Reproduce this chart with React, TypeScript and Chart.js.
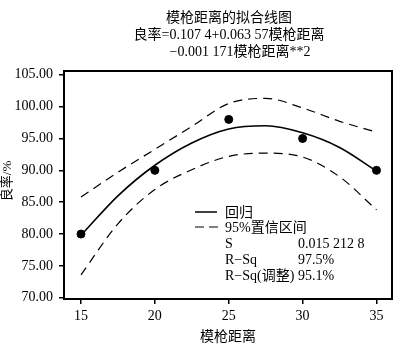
import React, { useEffect, useRef } from "react";
import { Chart, registerables } from "chart.js";
Chart.register(...registerables);

const xTicks = [15, 20, 25, 30, 35];
const yTicks = [70, 75, 80, 85, 90, 95, 100, 105];
const observedX = [15, 20, 25, 30, 35];
const observedY = [80, 90, 98, 95, 90];
const curveX = [15, 17.5, 20, 22.5, 25, 27.5, 30, 32.5, 35];
const fitY = [79.8, 86.0, 90.8, 94.3, 96.5, 97.0, 95.9, 93.6, 89.9];
const upperY = [85.8, 89.7, 93.3, 96.9, 100.5, 101.3, 99.8, 97.7, 96.0];
const lowerY = [73.6, 81.6, 87.0, 90.1, 92.2, 92.7, 92.1, 89.0, 83.8];
const titleLines = ["模枪距离的拟合线图", "良率=0.107 4+0.063 57模枪距离", "−0.001 171模枪距离**2"];
const xTitle = "模枪距离";
const yTitle = "良率/%";
const legendLabels = ["回归", "95%置信区间"];
const statNames = ["S", "R−Sq", "R−Sq(调整)"];
const statValues = ["0.015 212 8", "97.5%", "95.1%"];

const FONT = "'Liberation Serif', 'Noto Sans CJK SC', serif";

const pts = (xs: number[], ys: number[]) => xs.map((x, i) => ({ x, y: ys[i] }));

const overlay = {
  id: "overlay",
  afterDraw(chart: any) {
    const ctx = chart.ctx as CanvasRenderingContext2D;
    const a = chart.chartArea;
    ctx.save();
    ctx.strokeStyle = "#000";
    ctx.lineWidth = 2;
    ctx.strokeRect(a.left, a.top, a.right - a.left, a.bottom - a.top);
    ctx.fillStyle = "#000";
    ctx.textBaseline = "middle";
    ctx.font = `14px ${FONT}`;
    ctx.textAlign = "center";
    ctx.fillText(titleLines[0], 229, 18);
    ctx.fillText(titleLines[1], 229, 35);
    ctx.fillText(titleLines[2], 240, 52);
    ctx.fillText(xTitle, 228, 337);
    ctx.save();
    ctx.translate(8, 181);
    ctx.rotate(-Math.PI / 2);
    ctx.font = `13px ${FONT}`;
    ctx.fillText(yTitle, 0, 0);
    ctx.restore();
    // legend
    ctx.lineWidth = 1.5;
    ctx.beginPath();
    ctx.moveTo(195, 212);
    ctx.lineTo(217, 212);
    ctx.stroke();
    ctx.setLineDash([9, 5]);
    ctx.lineWidth = 1.2;
    ctx.beginPath();
    ctx.moveTo(195, 227);
    ctx.lineTo(218, 227);
    ctx.stroke();
    ctx.setLineDash([]);
    ctx.textAlign = "left";
    ctx.font = `14px ${FONT}`;
    ctx.fillText(legendLabels[0], 225, 213);
    ctx.fillText(legendLabels[1], 225, 228);
    const rows = [244, 260, 276];
    statNames.forEach((n, i) => ctx.fillText(n, 225, rows[i]));
    statValues.forEach((v, i) => ctx.fillText(v, 298, rows[i]));
    ctx.restore();
  },
};

export default function App() {
  const ref = useRef<HTMLCanvasElement>(null);
  useEffect(() => {
    document.body.style.margin = "0";
    const lineCommon = {
      pointRadius: 0,
      borderColor: "#000",
      cubicInterpolationMode: "monotone" as const,
      fill: false,
    };
    const tickGrid = {
      drawOnChartArea: false,
      drawTicks: true,
      tickLength: 5,
      color: "#000",
      lineWidth: 1.5,
    };
    const chart = new Chart(ref.current!, {
      type: "line",
      data: {
        datasets: [
          { ...lineCommon, data: pts(curveX, fitY), borderWidth: 1.6 },
          { ...lineCommon, data: pts(curveX, upperY), borderWidth: 1.2, borderDash: [9, 6] },
          { ...lineCommon, data: pts(curveX, lowerY), borderWidth: 1.2, borderDash: [9, 6] },
          {
            data: pts(observedX, observedY),
            showLine: false,
            pointRadius: 4,
            pointBackgroundColor: "#000",
            pointBorderColor: "#000",
            borderColor: "#000",
          },
        ],
      },
      options: {
        responsive: false,
        animation: false,
        layout: { padding: { top: 71, right: 8, left: 0, bottom: 0 } },
        plugins: { legend: { display: false }, tooltip: { enabled: false } },
        scales: {
          x: {
            type: "linear",
            min: 13.85,
            max: 36.05,
            afterBuildTicks: (s: any) => {
              s.ticks = xTicks.map((v) => ({ value: v }));
            },
            afterFit: (s: any) => {
              s.height = 56;
            },
            ticks: {
              font: { family: FONT, size: 14 },
              color: "#000",
              padding: 4,
              maxRotation: 0,
              autoSkip: false,
              callback: (v: any) => String(v),
            },
            grid: tickGrid,
            border: { display: false },
          },
          y: {
            type: "linear",
            min: 69.8,
            max: 105.6,
            afterBuildTicks: (s: any) => {
              s.ticks = yTicks.map((v) => ({ value: v }));
            },
            afterFit: (s: any) => {
              s.width = 64;
            },
            ticks: {
              font: { family: FONT, size: 14 },
              color: "#000",
              padding: 6,
              autoSkip: false,
              callback: (v: any) => Number(v).toFixed(2),
            },
            grid: tickGrid,
            border: { display: false },
          },
        },
      },
      plugins: [overlay],
    });
    return () => chart.destroy();
  }, []);
  return (
    <div style={{ position: "absolute", left: 0, top: 0, width: 400, height: 355, background: "#fff" }}>
      <canvas ref={ref} width={400} height={355} />
    </div>
  );
}
